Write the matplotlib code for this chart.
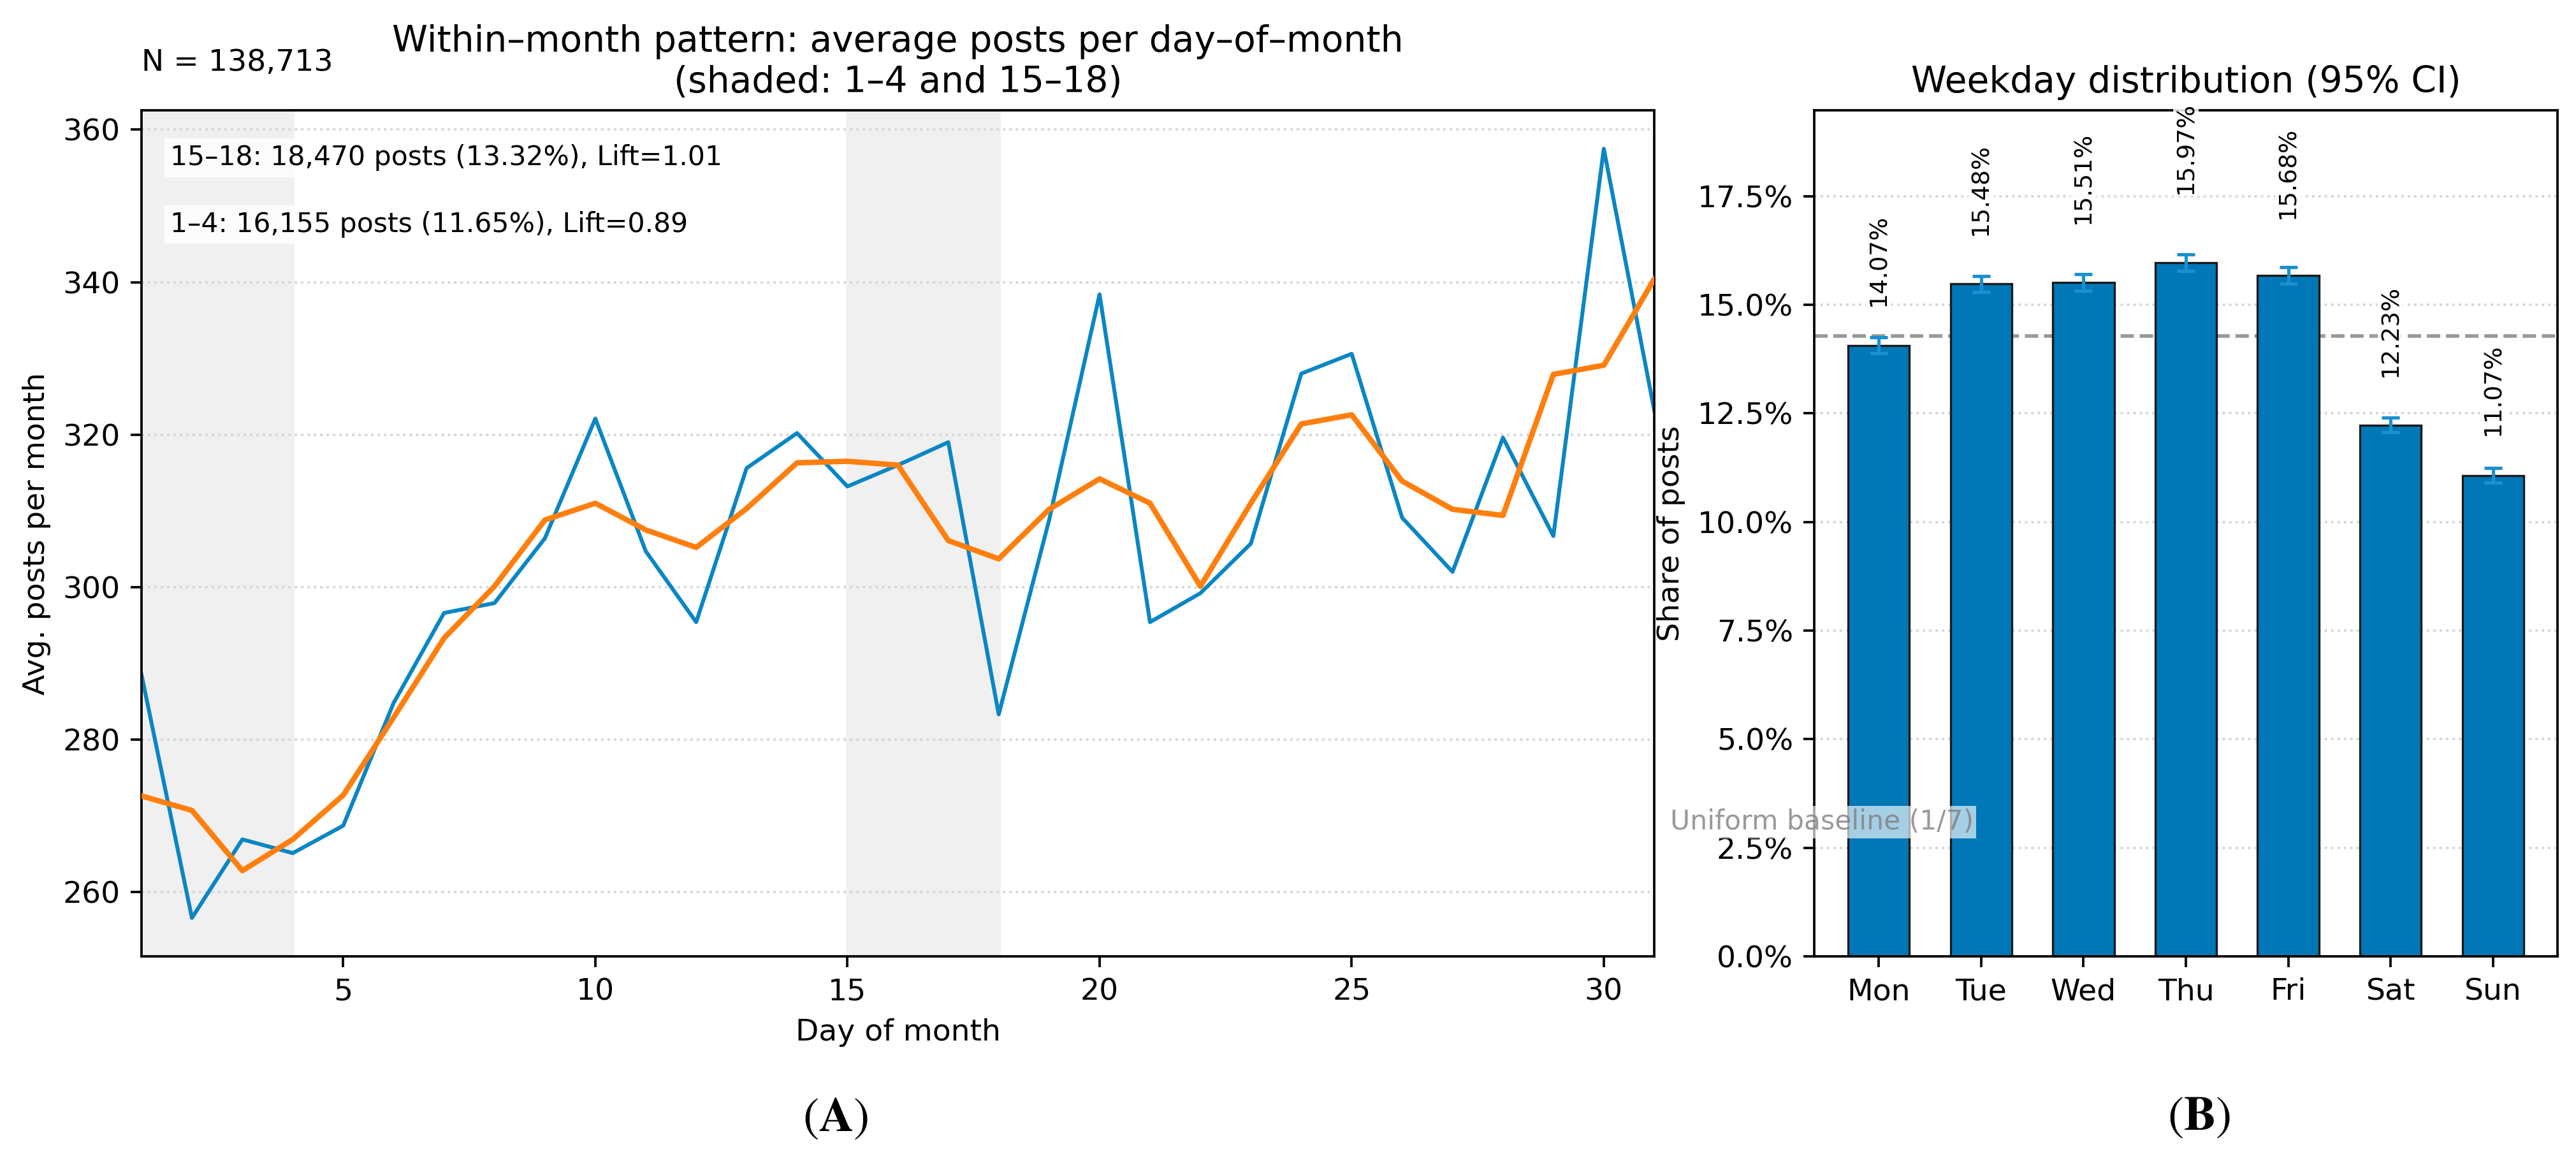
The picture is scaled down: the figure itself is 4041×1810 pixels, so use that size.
import matplotlib
matplotlib.use("Agg")
import matplotlib.pyplot as plt
from matplotlib.ticker import PercentFormatter

plt.rcParams["mathtext.fontset"] = "stix"

# day-of-month pattern
days = list(range(1, 32))
avg_posts = [288.5, 256.6, 266.9, 265.1, 268.7, 284.8, 296.6, 297.9, 306.4, 322.1,
             304.7, 295.4, 315.6, 320.2, 313.2, 316.0, 319.0, 283.3, 308.8, 338.4,
             295.4, 299.2, 305.7, 328.0, 330.6, 309.1, 302.0, 319.6, 306.7, 357.5, 323.2]
smoothed = [272.6, 270.7, 262.8, 266.9, 272.7, 282.9, 293.3, 300.1, 308.8, 311.0,
            307.5, 305.2, 310.3, 316.3, 316.5, 316.0, 306.1, 303.7, 310.2, 314.2,
            311.0, 300.1, 311.0, 321.4, 322.6, 313.9, 310.2, 309.4, 327.9, 329.1, 340.4]
windows = [(1, 4), (15, 18)]
window_notes = ["15–18: 18,470 posts (13.32%), Lift=1.01",
                "1–4: 16,155 posts (11.65%), Lift=0.89"]
n_text = "N = 138,713"

# weekday distribution
weekdays = ["Mon", "Tue", "Wed", "Thu", "Fri", "Sat", "Sun"]
share = [0.1407, 0.1548, 0.1551, 0.1597, 0.1568, 0.1223, 0.1107]
ci95 = [0.0018, 0.0019, 0.0019, 0.0019, 0.0019, 0.0017, 0.0017]
baseline = 1 / 7

# label heights above bars (layout only)
label_gap = [0.0090, 0.0112, 0.0135, 0.0158, 0.0131, 0.0112, 0.0093]

W, H, DPI = 4041, 1810, 340
fig = plt.figure(figsize=(W / DPI, H / DPI), dpi=DPI)

bot = 1 - 1500 / H
hgt = 1327 / H
ax1 = fig.add_axes([222 / W, bot, 2373 / W, hgt])
ax2 = fig.add_axes([2846 / W, bot, 1166 / W, hgt])

# ---- left panel
for a, b in windows:
    ax1.axvspan(a, b, color="#f0f0f0", zorder=0)
ax1.plot(days, avg_posts, color="#0a86c4", lw=1.3, zorder=2)
ax1.plot(days, smoothed, color="#ff7f0e", lw=1.8, zorder=3)
ax1.set_xlim(1, 31)
ax1.grid(axis="y", linestyle=":", color="#d6d6d6", lw=0.8)
ax1.set_xlabel("Day of month", fontsize=10)
ax1.set_ylabel("Avg. posts per month", fontsize=10)
ax1.set_title("Within–month pattern: average posts per day–of–month\n(shaded: 1–4 and 15–18)",
              fontsize=12)
ax1.text(0.0, 1.047, n_text, transform=ax1.transAxes, ha="left", va="baseline", fontsize=10)
for yy, note in zip([0.944, 0.865], window_notes):
    ax1.text(0.019, yy, note, transform=ax1.transAxes, ha="left", va="center", fontsize=9,
             bbox=dict(facecolor="white", alpha=0.85, edgecolor="none", pad=2))

# ---- right panel
xpos = list(range(len(weekdays)))
ax2.set_axisbelow(True)
ax2.axhline(baseline, ls="--", color="#999999", lw=1.2, zorder=0.8)
ax2.bar(xpos, share, width=0.6, color="#0077b6", edgecolor="#1a1a1a", linewidth=0.7,
        yerr=ci95, error_kw=dict(ecolor="#1a90d0", elinewidth=1.1, capsize=3, capthick=1.1),
        zorder=1)
for x, v, g in zip(xpos, share, label_gap):
    ax2.text(x, v + g, f"{v * 100:.2f}%", rotation=90, ha="center", va="bottom",
             fontsize=8, bbox=dict(facecolor="white", alpha=0.85, edgecolor="none", pad=0.5))
ax2.text(0.01, baseline, "Uniform baseline (1/7)", transform=ax2.transAxes, ha="center",
         va="bottom", fontsize=9, color="gray", alpha=0.8,
         bbox=dict(facecolor="white", alpha=0.65, edgecolor="none", pad=1))
ax2.set_ylim(0, 0.1948)
ax2.yaxis.set_major_formatter(PercentFormatter(1.0, decimals=1))
ax2.set_xticks(xpos)
ax2.set_xticklabels(weekdays)
ax2.grid(axis="y", linestyle=":", color="#d6d6d6", lw=0.8)
ax2.set_ylabel("Share of posts", fontsize=10)
ax2.set_title("Weekday distribution (95% CI)", fontsize=12)

for ax in (ax1, ax2):
    ax.tick_params(labelsize=10)

fig.text(1311 / W, 1 - 1753 / H, r"$(\mathbf{A})$", ha="center", va="center", fontsize=16)
fig.text(3449 / W, 1 - 1751 / H, r"$(\mathbf{B})$", ha="center", va="center", fontsize=16)

fig.savefig("out.png", dpi=DPI)
